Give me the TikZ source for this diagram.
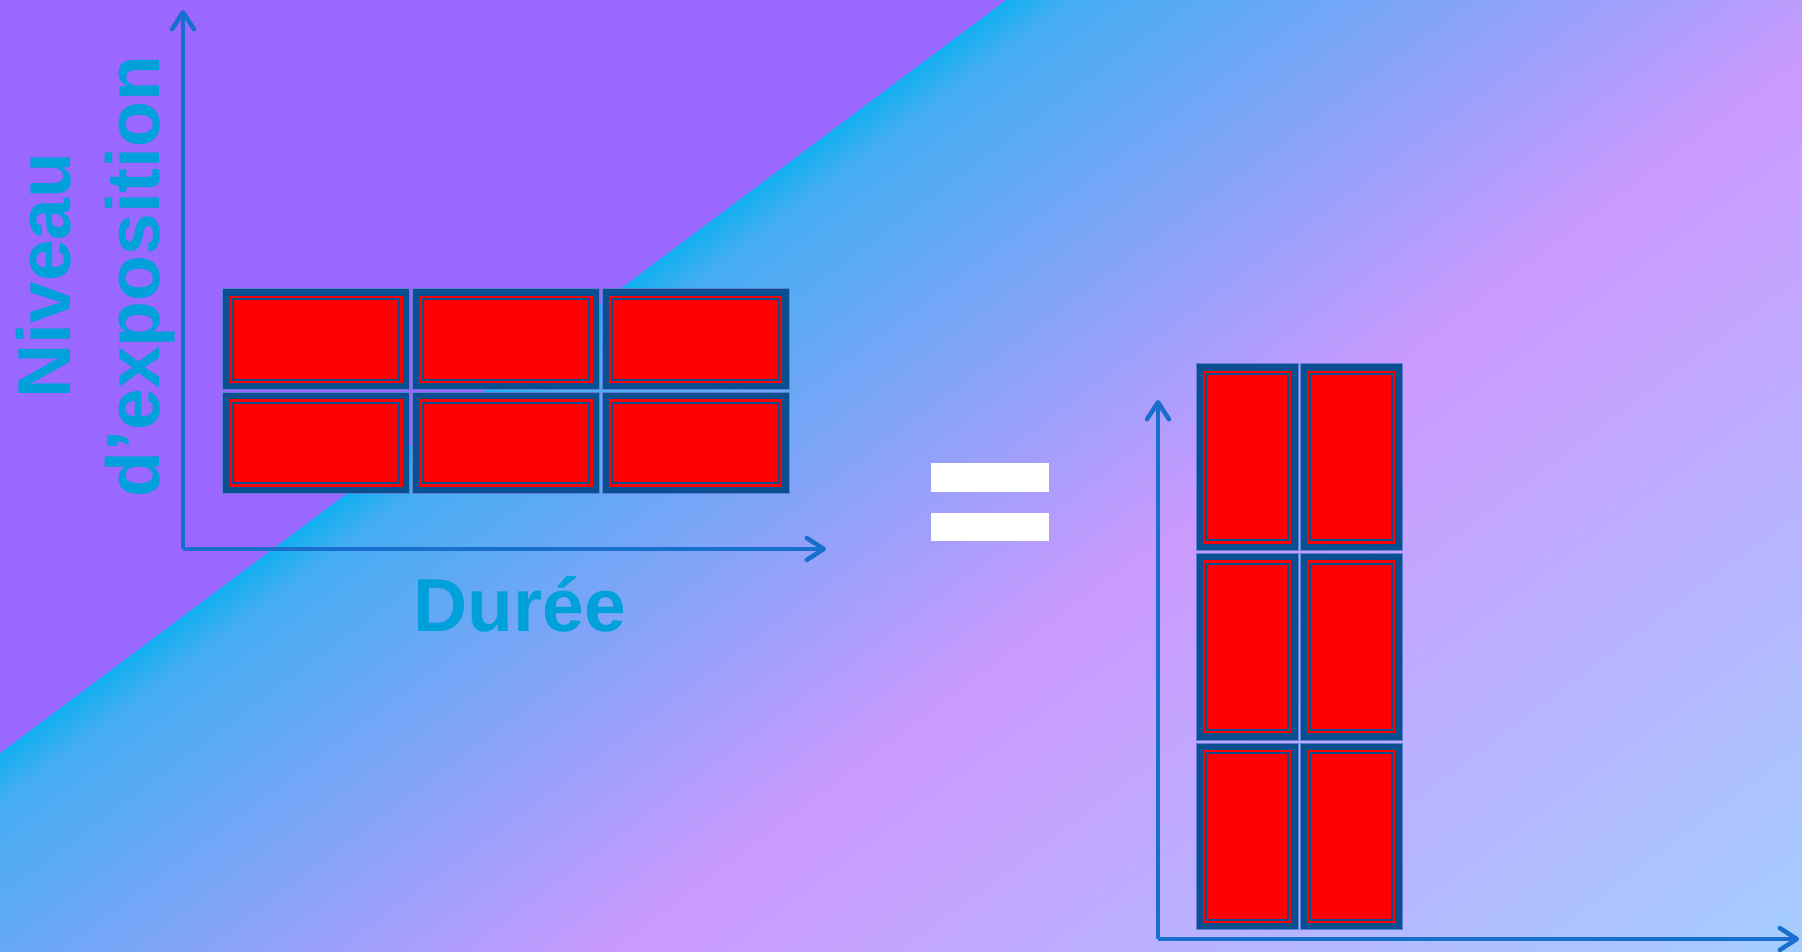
\documentclass[tikz,border=0pt]{standalone}
\usepackage{fontspec}
\setmainfont{Liberation Sans}
\usetikzlibrary{arrows.meta}
\definecolor{bgpurple}{RGB}{154,104,255}
\definecolor{gcyan}{HTML}{10B0F0}
\definecolor{gsky}{RGB}{69,173,242}
\definecolor{gpink}{HTML}{CC99FF}
\definecolor{glight}{HTML}{A4CEFF}
\definecolor{blkblue}{RGB}{10,80,144}
\definecolor{blkedge}{RGB}{95,125,215}
\definecolor{axisblue}{RGB}{24,112,204}
\definecolor{lblcyan}{RGB}{0,160,218}
\pgfdeclarehorizontalshading{bgshade}{5000bp}{color(0bp)=(gcyan); color(5bp)=(gcyan); color(45bp)=(gsky); color(535bp)=(gpink); color(1245bp)=(glight); color(1310bp)=(glight)}
\tikzset{
  blk/.style={rectangle, draw=blkedge, line width=1pt, fill=blkblue, inner sep=0pt, outer sep=0pt,
    path picture={
      \draw[red, line width=2.4pt] ([shift={(8,8)}]path picture bounding box.north west) rectangle ([shift={(-8,-8)}]path picture bounding box.south east);
      \fill[red] ([shift={(11.2,11.2)}]path picture bounding box.north west) rectangle ([shift={(-11.2,-11.2)}]path picture bounding box.south east);
    }},
  hblk/.style={blk, minimum width=187pt, minimum height=101pt},
  vblk/.style={blk, minimum width=102pt, minimum height=186.7pt},
  axis/.style={draw=axisblue, line width=4.5pt, -{Straight Barb[length=17pt, width=22pt, round]}},
  lbl/.style={text=lblcyan, font=\fontsize{75}{90}\selectfont\bfseries, inner sep=0pt},
  eqbar/.style={rectangle, fill=white, inner sep=0pt, minimum width=118pt}
}
\begin{document}
\begin{tikzpicture}[x=1pt,y=-1pt]
\useasboundingbox (0,0) rectangle (1802,952);
% background
\begin{scope}
  \clip (0,0) rectangle (1802,952);
  \begin{scope}[shift={(0,753)}, rotate=-53.17]
    \node[transform shape, inner sep=0pt, outer sep=0pt, anchor=west] (bg) at (-5,0) {\pgfuseshading{bgshade}};
  \end{scope}
  \fill[bgpurple] (0,0) -- (1006,0) -- (0,753) -- cycle;
\end{scope}

% left axes
\coordinate (o1) at (183,549);
\coordinate (yt1) at (183,10);
\coordinate (xt1) at (826,549);
\draw[axis] (o1) -- (yt1);
\draw[axis] (o1) -- (xt1);

% left blocks
\node[hblk] (a1) at (316,339.3) {};
\node[hblk] (a2) at (505.8,339.3) {};
\node[hblk] (a3) at (695.6,339.3) {};
\node[hblk] (a4) at (316,442.9) {};
\node[hblk] (a5) at (505.8,442.9) {};
\node[hblk] (a6) at (695.6,442.9) {};

% labels
\node[lbl, rotate=90, anchor=base] (niv) at (70,275.5) {Niveau};
\node[lbl, rotate=90, anchor=base] (expo) at (159,276.5) {d’exposition};
\node[lbl, anchor=base] (dur) at (519.5,631) {Durée};

% equal sign
\node[eqbar, minimum height=29pt] (eq1) at (990,477.8) {};
\node[eqbar, minimum height=28.3pt] (eq2) at (990,526.9) {};

% right axes
\coordinate (o2) at (1158,939);
\coordinate (yt2) at (1158,400);
\coordinate (xt2) at (1799,939);
\draw[axis] (o2) -- (yt2);
\draw[axis] (o2) -- (xt2);

% right blocks
\node[vblk] (b1) at (1247,457.2) {};
\node[vblk] (b2) at (1351.1,457.2) {};
\node[vblk] (b3) at (1247,646.9) {};
\node[vblk] (b4) at (1351.1,646.9) {};
\node[vblk] (b5) at (1247,836.6) {};
\node[vblk] (b6) at (1351.1,836.6) {};
\end{tikzpicture}
\end{document}
